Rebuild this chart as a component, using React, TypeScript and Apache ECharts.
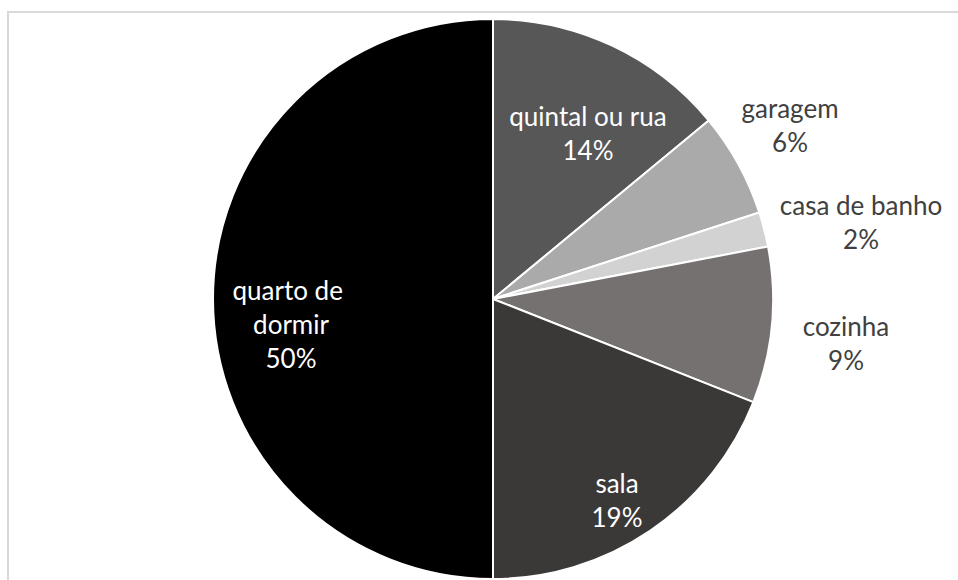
import React, { useEffect, useRef } from "react";
import * as echarts from "echarts";

const categories = ["quintal ou rua", "garagem", "casa de banho", "cozinha", "sala", "quarto de dormir"];
const values = [14, 6, 2, 9, 19, 50];

const sliceColors = ["#575757", "#aaaaaa", "#d2d2d2", "#767171", "#3b3838", "#000000"];
const labelInside = [true, false, false, false, true, true];
const labelCenters: [number, number][] = [
  [588, 133],
  [790, 125],
  [861, 222],
  [846, 343],
  [617, 500],
  [291, 324],
];

export default function App() {
  const ref = useRef<HTMLDivElement>(null);
  useEffect(() => {
    if (!ref.current) return;
    const chart = echarts.init(ref.current, undefined, { renderer: "svg" });
    chart.setOption({
      animation: false,
      backgroundColor: "#ffffff",
      graphic: [
        {
          type: "rect",
          shape: { x: 8, y: 12, width: 960, height: 600 },
          style: { fill: "none", stroke: "#d9d9d9", lineWidth: 2 },
          silent: true,
          z: -10,
        },
      ],
      series: [
        {
          type: "pie",
          center: [493, 299],
          radius: [0, 280],
          startAngle: 90,
          clockwise: true,
          percentPrecision: 0,
          itemStyle: { borderColor: "#ffffff", borderWidth: 2 },
          labelLine: { show: false },
          emphasis: { disabled: true },
          label: {
            show: true,
            position: "inside",
            formatter: "{b}\n{d}%",
            fontFamily: "Lato",
            fontSize: 26,
            lineHeight: 34,
            align: "center",
          },
          labelLayout: (params: any) => {
            const p = labelCenters[params.dataIndex];
            return { x: p[0], y: p[1], align: "center", verticalAlign: "middle" };
          },
          data: categories.map((name, i) => ({
            name,
            value: values[i],
            itemStyle: { color: sliceColors[i] },
            label: {
              color: labelInside[i] ? "#ffffff" : "#404040",
              ...(name.length > 15 ? { width: 130, overflow: "break" } : {}),
            },
          })),
        },
      ],
    });
    return () => chart.dispose();
  }, []);
  return (
    <div
      ref={ref}
      style={{ position: "fixed", left: 0, top: 0, width: 958, height: 580 }}
    />
  );
}
